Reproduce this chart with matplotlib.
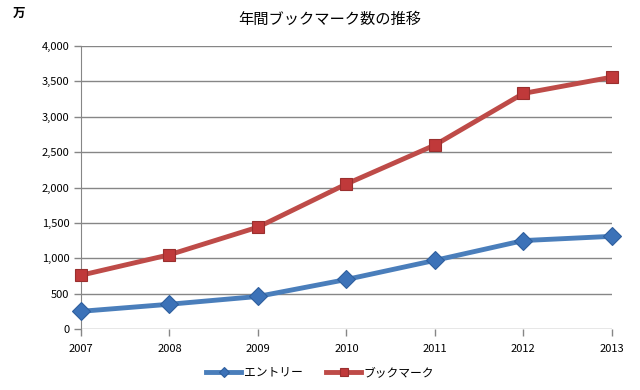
import matplotlib
matplotlib.use('Agg')
import matplotlib.pyplot as plt

plt.rcParams['font.family'] = ['Noto Sans CJK JP', 'DejaVu Sans']

years = [2007, 2008, 2009, 2010, 2011, 2012, 2013]
entries = [250, 350, 460, 700, 970, 1250, 1310]
bookmarks = [760, 1050, 1440, 2050, 2600, 3330, 3560]
yticks = [0, 500, 1000, 1500, 2000, 2500, 3000, 3500, 4000]

fig = plt.figure(figsize=(6.4, 3.9), dpi=100)
ax = fig.add_axes([0.1266, 0.1564, 0.8294, 0.7256])

ax.plot(years, entries, color='#4A7EBB', lw=3.5, marker='D', ms=9,
        mfc='#3C72B8', mec='#2F5F9E', mew=0.8, label='エントリー', zorder=3,
        clip_on=False)
ax.plot(years, bookmarks, color='#BE4B48', lw=3.5, marker='s', ms=9,
        mfc='#C0393A', mec='#9A2F2E', mew=0.8, label='ブックマーク', zorder=3,
        clip_on=False)

ax.set_xlim(years[0], years[-1])
ax.set_ylim(0, 4000)
ax.set_xticks(years)
ax.set_yticks(yticks)
ax.set_yticklabels([f'{v:,}' for v in yticks])
ax.grid(axis='y', color='#868686', lw=1)
ax.set_axisbelow(True)
for s in ['top', 'right', 'bottom']:
    ax.spines[s].set_visible(False)
ax.spines['left'].set_color('#868686')
ax.tick_params(axis='both', colors='#868686', labelcolor='black', labelsize=8, length=5, width=1)
ax.tick_params(axis='x', pad=6)

fig.text(0.516, 0.95, '年間ブックマーク数の推移', ha='center', va='center', fontsize=11)
fig.text(0.03, 0.965, '万', ha='center', va='center', fontsize=9, fontweight='bold')

fig.legend(loc='center', bbox_to_anchor=(0.5, 0.045), ncol=2, frameon=False,
           fontsize=8.5, handlelength=3, columnspacing=2, handletextpad=0.2,
           markerscale=0.6)

plt.savefig('out.png', dpi=100)
